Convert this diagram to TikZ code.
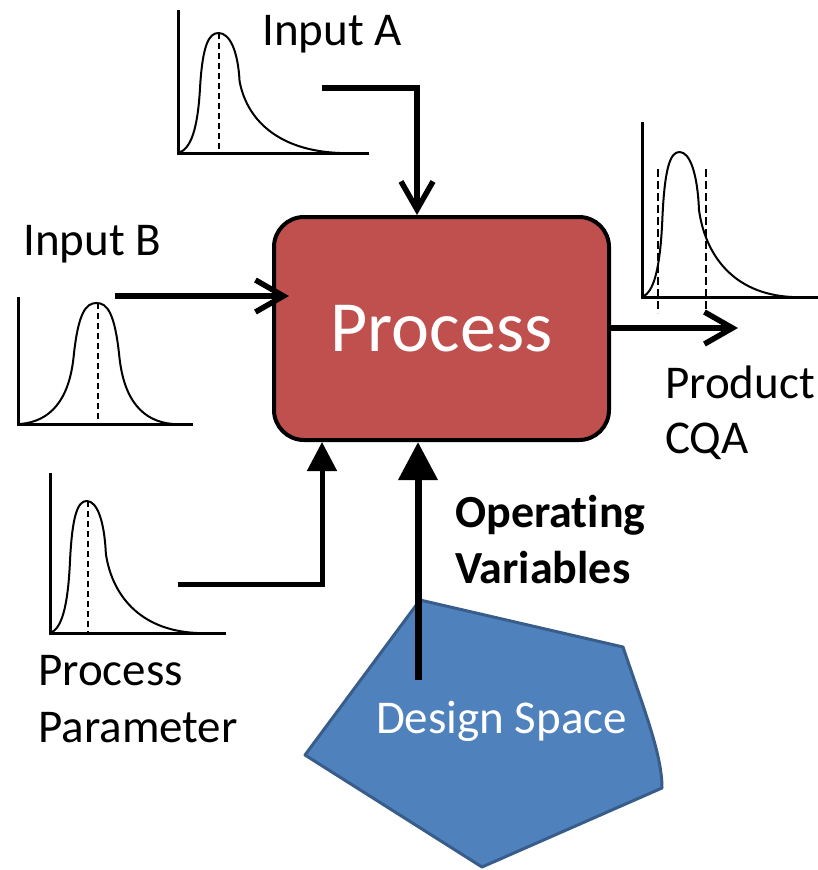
\documentclass[tikz,border=0pt]{standalone}
\usepackage{fontspec}
\setmainfont{Carlito}[Ligatures={NoCommon,NoContextual,NoRequired}, RawFeature={-liga;-clig;-calt;-dlig}]
\usetikzlibrary{arrows.meta}

\definecolor{procred}{HTML}{C0504D}
\definecolor{dsblue}{HTML}{4F81BD}
\definecolor{dsedge}{HTML}{385D8A}

\tikzset{
  label text/.style={font=\fontsize{47}{56}\selectfont, inner sep=0pt, align=left},
  bold label/.style={font=\fontsize{46}{56}\selectfont\bfseries, inner sep=0pt, align=left},
  axisline/.style={line width=3pt},
  distcurve/.style={line width=2pt},
  meanline/.style={line width=2.2pt, dash pattern=on 6pt off 4pt},
  specline/.style={line width=2.8pt, dash pattern=on 8pt off 4pt},
  feed/.style={line width=5.5pt, -{Straight Barb[length=28pt, width=32pt, line width=5.5pt]}},
  control/.style={line width=5pt, -{Triangle[length=29pt, width=29pt]}},
  opvars/.style={line width=7pt, -{Triangle[length=38pt, width=38pt]}},
  procbox/.style={draw=black, line width=4pt, fill=procred, rounded corners=30pt,
    minimum width=335pt, minimum height=223pt, text=white,
    font=\fontsize{72}{80}\selectfont, inner sep=0pt}
}

% right-skewed density on the unit square
\newcommand\skewcurve{(0,0) .. controls (0.08,0.03) and (0.12,0.2) .. (0.135,0.52)
  .. controls (0.15,0.9) and (0.19,1) .. (0.25,1)
  .. controls (0.32,1) and (0.37,0.85) .. (0.38,0.6)
  .. controls (0.42,0.3) and (0.6,0.02) .. (1,0)}
% symmetric bell on the unit square
\newcommand\bellcurve{(0,0) .. controls (0.2,0.02) and (0.32,0.2) .. (0.35,0.55)
  .. controls (0.38,0.92) and (0.43,1) .. (0.5,1)
  .. controls (0.57,1) and (0.62,0.92) .. (0.65,0.55)
  .. controls (0.68,0.2) and (0.8,0.02) .. (1,0)}

\begin{document}
\begin{tikzpicture}[x=1pt, y=-1pt]
\useasboundingbox (0,0) rectangle (818,870);

% ---- design space ----
\draw[fill=dsblue, draw=dsedge, line width=3pt, line join=round]
  (420,600) -- (623,647) .. controls (645,712) and (662,755) .. (662,788)
  -- (482,867) -- (305,755) -- cycle;
\node[font=\fontsize{47}{56}\selectfont, text=white, inner sep=0pt, anchor=base]
  (dslabel) at (501.5,733) {Design Space};

% ---- process block ----
\node[procbox] (process) at (441.5,328.5) {Process};

% ---- distribution of input A ----
\draw[axisline] (178,10) -- (178,153) -- (369,153);
\begin{scope}[shift={(178,153)}, xscale=162, yscale=-120]
  \draw[distcurve] \skewcurve;
\end{scope}
\draw[meanline] (219,33) -- (219,153);
\node[label text, anchor=base west] (inalabel) at (262,45) {Input A};

% ---- distribution of input B ----
\draw[axisline] (18,297) -- (18,424) -- (193,424);
\begin{scope}[shift={(20,424)}, xscale=153, yscale=-121]
  \draw[distcurve] \bellcurve;
\end{scope}
\draw[meanline] (98,303) -- (98,424);
\node[label text, anchor=base west] (inblabel) at (23,255) {Input B};

% ---- distribution of process parameter ----
\draw[axisline] (50,473) -- (50,633) -- (226,633);
\begin{scope}[shift={(50,633)}, xscale=147, yscale=-132]
  \draw[distcurve] \skewcurve;
\end{scope}
\draw[meanline] (88,501) -- (88,633);
\node[label text, anchor=base west] (pplabel1) at (38,685) {Process};
\node[label text, anchor=base west] (pplabel2) at (38,742) {Parameter};

% ---- distribution of product CQA ----
\draw[axisline] (642,122) -- (642,297) -- (818,297);
\begin{scope}[shift={(642,297)}, xscale=150, yscale=-145]
  \draw[distcurve] \skewcurve;
\end{scope}
\draw[specline] (658,169) -- (658,313);
\draw[specline] (706,169) -- (706,313);
\node[label text, anchor=base west] (cqalabel1) at (665,398) {Product};
\node[label text, anchor=base west] (cqalabel2) at (665,453) {CQA};

% ---- connectors ----
\coordinate (inastart) at (322,88);
\coordinate (inabend) at (417,88);
\draw[feed, line join=miter] (inastart) -- (inabend) -- (inabend |- process.north);

\coordinate (inbstart) at (115,296);
\coordinate (inbend) at (289,296);
\draw[feed] (inbstart) -- (inbend);

\coordinate (outend) at (738,328);
\draw[feed] (process.east |- outend) -- (outend);

\coordinate (ppstart) at (178,584);
\coordinate (ppbend) at (322,584);
\draw[control, line join=miter] (ppstart) -- (ppbend) -- (ppbend |- process.south);

\coordinate (opstart) at (418,680);
\draw[opvars] (opstart) -- (opstart |- process.south);
\node[bold label, anchor=base west] (oplabel1) at (455,527) {Opera{}ting};
\node[bold label, anchor=base west] (oplabel2) at (455,583) {Variables};
\end{tikzpicture}
\end{document}
